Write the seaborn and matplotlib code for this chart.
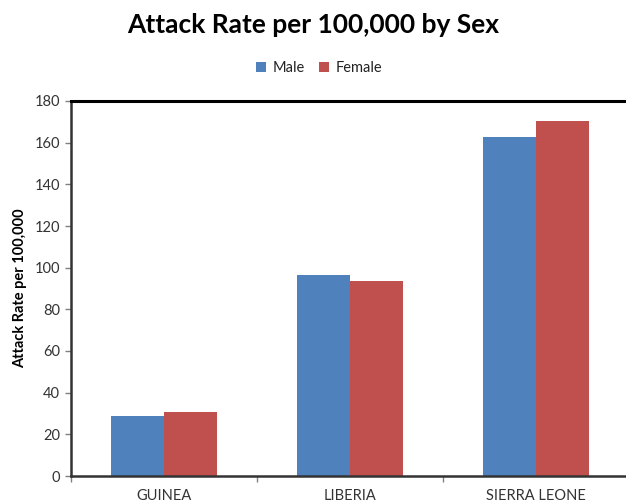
import matplotlib
matplotlib.use("Agg")
import matplotlib.pyplot as plt
import seaborn as sns
import pandas as pd
from matplotlib.ticker import FixedLocator, MultipleLocator

countries = ["GUINEA", "LIBERIA", "SIERRA LEONE"]
male_rate = [28.7, 96.3, 162.6]
female_rate = [30.7, 93.6, 170.6]
sexes = ["Male", "Female"]
colors = ["#4F81BD", "#C0504D"]

df = pd.DataFrame({
    "country": countries * 2,
    "sex": [sexes[0]] * len(countries) + [sexes[1]] * len(countries),
    "rate": male_rate + female_rate,
})

sns.set_style("white")
plt.rcParams["font.family"] = ["Lato", "DejaVu Sans"]

fig = plt.figure(figsize=(6.26, 5.04), dpi=100)
ax = fig.add_axes([71 / 626, 28 / 504, 558 / 626, 375 / 504])

sns.barplot(data=df, x="country", y="rate", hue="sex", hue_order=sexes,
            palette=colors, width=0.575, ax=ax, edgecolor="none",
            saturation=1, legend=True)

ax.set_xlim(-0.5, 2.5)
ax.set_ylim(0, 180)
ax.yaxis.set_major_locator(MultipleLocator(20))
ax.set_xlabel("")
ax.set_ylabel("Attack Rate per 100,000", fontsize=10.5, fontweight="bold",
              color="black", labelpad=5)

ax.tick_params(axis="y", which="major", direction="out", length=4, width=1,
               color="#808080", labelsize=10.5, labelcolor="#333333", pad=4, left=True)
ax.tick_params(axis="x", which="major", length=0, labelsize=10.5,
               labelcolor="#333333", pad=9)
ax.xaxis.set_minor_locator(FixedLocator([-0.5, 0.5, 1.5, 2.5]))
ax.tick_params(axis="x", which="minor", direction="out", length=4, width=1,
               color="#808080", bottom=True)

for side in ["left", "bottom"]:
    ax.spines[side].set_visible(True)
    ax.spines[side].set_color("#333333")
    ax.spines[side].set_linewidth(1.8)
ax.spines["top"].set_visible(True)
ax.spines["top"].set_color("black")
ax.spines["top"].set_linewidth(2.2)
ax.spines["right"].set_visible(False)

leg = ax.legend(loc="center", bbox_to_anchor=(319 / 626, 1 - 68 / 504),
                bbox_transform=fig.transFigure, ncol=2, frameon=False,
                fontsize=10.5, handlelength=0.7, handleheight=0.7,
                handletextpad=0.4, columnspacing=1.0)
for t in leg.get_texts():
    t.set_color("#222222")

fig.text(0.5, 1 - 25 / 504, "Attack Rate per 100,000 by Sex", ha="center",
         va="center", fontsize=19, fontweight="bold", color="black")

fig.savefig("out.png", dpi=100)
